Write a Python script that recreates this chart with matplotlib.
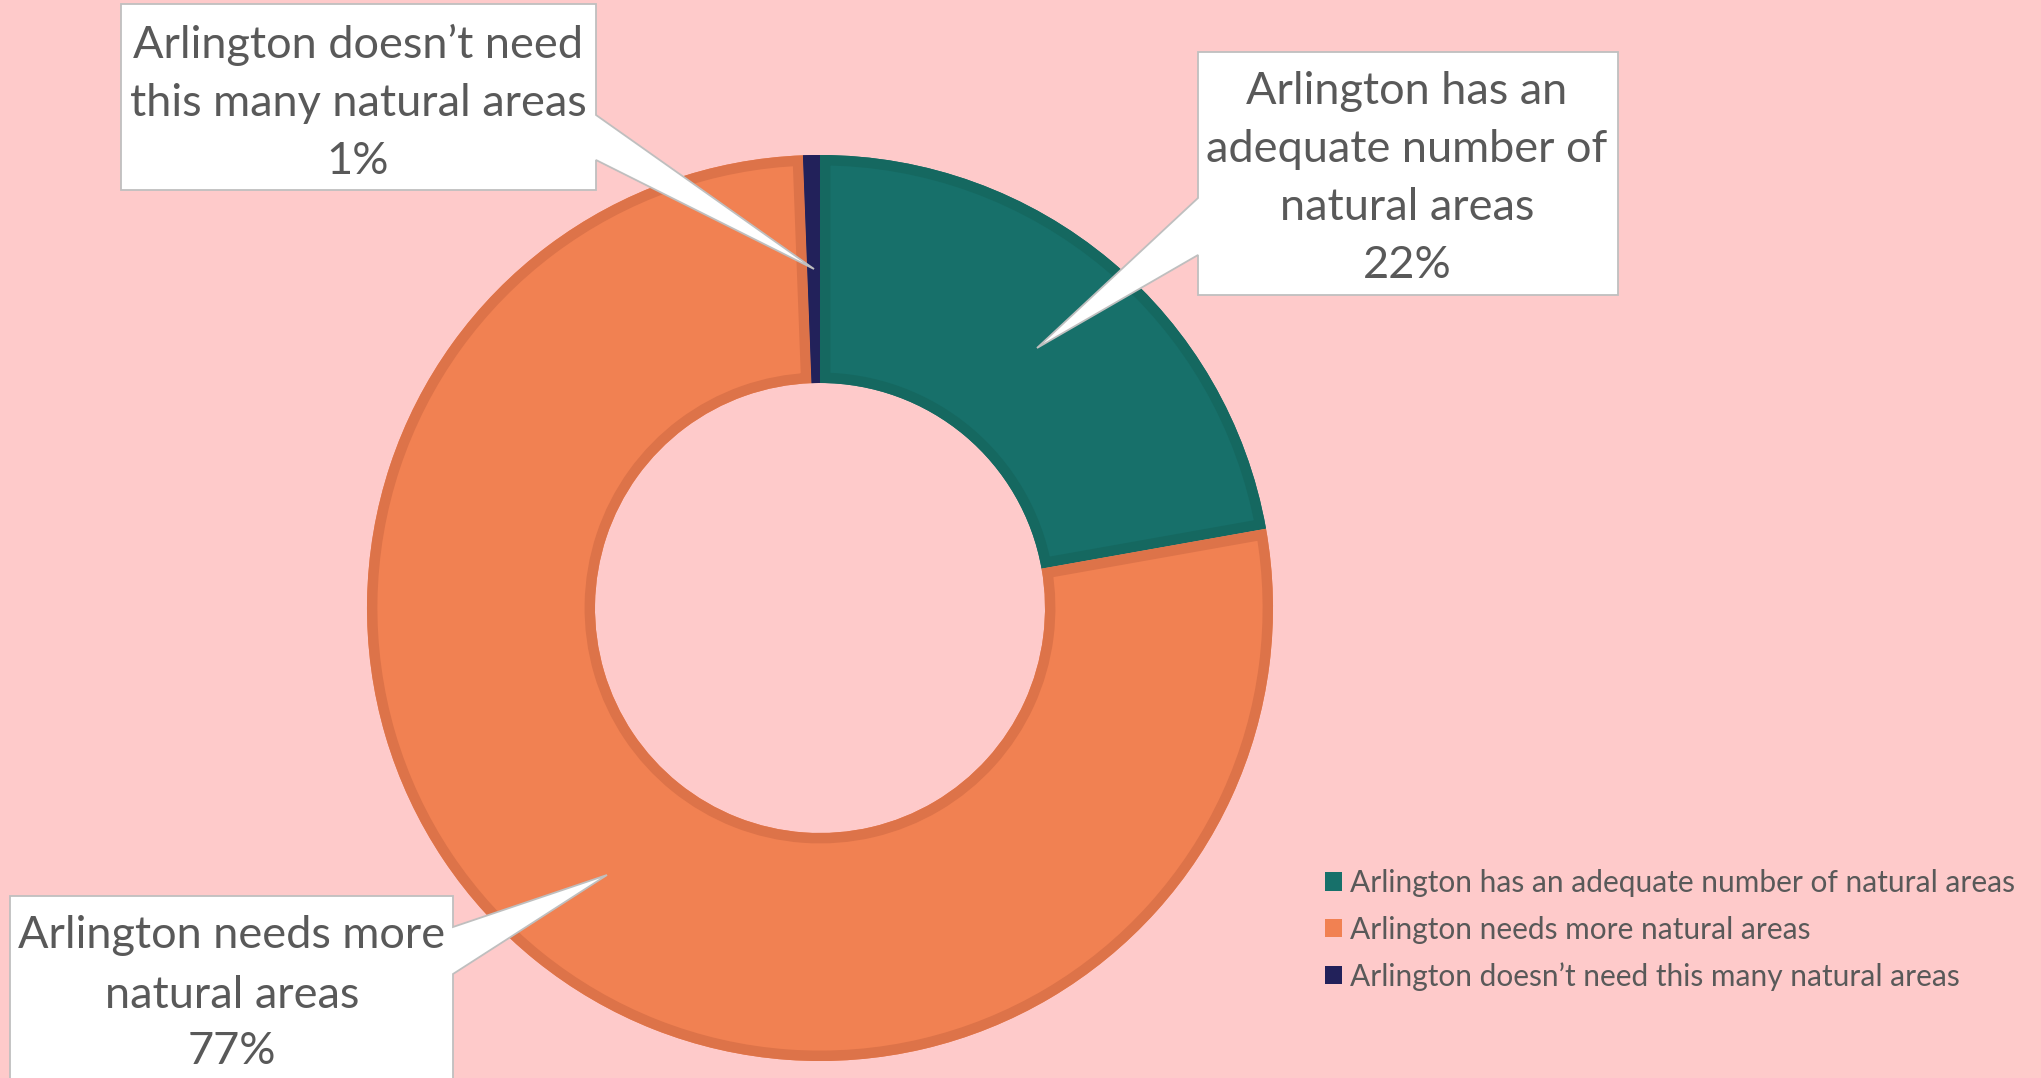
import matplotlib
matplotlib.use("Agg")
import matplotlib.pyplot as plt
from matplotlib.patches import Polygon, Patch, Wedge

# ---- data ----
categories = [
    "Arlington has an adequate number of natural areas",
    "Arlington needs more natural areas",
    "Arlington doesn\u2019t need this many natural areas",
]
values = [22.2, 77.2, 0.6]
pct_labels = ["22%", "77%", "1%"]
callout_lines = [
    ["Arlington has an", "adequate number of", "natural areas"],
    ["Arlington needs more", "natural areas"],
    ["Arlington doesn\u2019t need", "this many natural areas"],
]

# ---- style ----
W, H = 2041, 1078
BG = "#FECACA"
fills = ["#17706A", "#F18152", "#22215A"]
edges = ["#156860", "#DD7349", "#22215A"]
TXT = "#595959"
FONT = ["Lato", "DejaVu Sans"]

fig = plt.figure(figsize=(W / 100, H / 100), dpi=100, facecolor=BG)
ax = fig.add_axes([0, 0, 1, 1])
ax.set_facecolor(BG)

cx, cy, R = 820, 608, 453
wedges, _ = ax.pie(values, colors=fills, startangle=90, counterclock=False,
                   radius=R, center=(cx, H - cy),
                   wedgeprops=dict(width=228, linewidth=0))

ax.set_xlim(0, W)
ax.set_ylim(0, H)
ax.set_aspect("equal")
ax.axis("off")

# inner border on each slice: stroke clipped to the slice itself
for w, ec in zip(wedges, edges):
    border = Wedge(w.center, w.r, w.theta1, w.theta2, width=w.width,
                   facecolor="none", edgecolor=ec, linewidth=15,
                   joinstyle="miter", transform=ax.transData, zorder=w.get_zorder())
    ax.add_artist(border)
    border.set_clip_path(w.get_path(), ax.transData)

# callouts: box (x0,y0,x1,y1), pointer side, pointer base ys, tip, text center x, line ys
layout = [
    dict(box=(1198, 52, 1618, 295), side="left", base=(198, 255), tip=(1037, 348),
         tx=1407, ys=[91, 149, 207, 266]),
    dict(box=(10, 896, 453, 1095), side="right", base=(927, 974), tip=(607, 875),
         tx=232, ys=[936, 995, 1052]),
    dict(box=(121, 4, 596, 190), side="right", base=(115, 160), tip=(814, 269),
         tx=358, ys=[45, 103, 161]),
]

for i, L in enumerate(layout):
    x0, y0, x1, y1 = L["box"]
    b0, b1 = L["base"]
    tip = L["tip"]
    if L["side"] == "right":
        pts = [(x0, y0), (x1, y0), (x1, b0), tip, (x1, b1), (x1, y1), (x0, y1)]
    else:
        pts = [(x0, y0), (x1, y0), (x1, y1), (x0, y1), (x0, b1), tip, (x0, b0)]
    pts = [(x, H - y) for x, y in pts]
    ax.add_patch(Polygon(pts, closed=True, facecolor="white", edgecolor="#BFBFBF",
                         linewidth=1.3, zorder=5))
    lines = callout_lines[i] + [pct_labels[i]]
    for s, y in zip(lines, L["ys"]):
        ax.text(L["tx"], H - y, s, ha="center", va="center", fontsize=32.5,
                color=TXT, family=FONT, zorder=6)

handles = [Patch(facecolor=c, edgecolor="none") for c in fills]
leg = fig.legend(handles, categories, loc="upper left",
                 bbox_to_anchor=(1325 / W, 1 - 869 / H), frameon=False,
                 prop=dict(family=FONT, size=21.5), labelcolor=TXT,
                 handlelength=0.57, handleheight=0.57, handletextpad=0.27,
                 labelspacing=0.62, borderpad=0, borderaxespad=0)

fig.savefig("out.png", dpi=100, facecolor=BG)
